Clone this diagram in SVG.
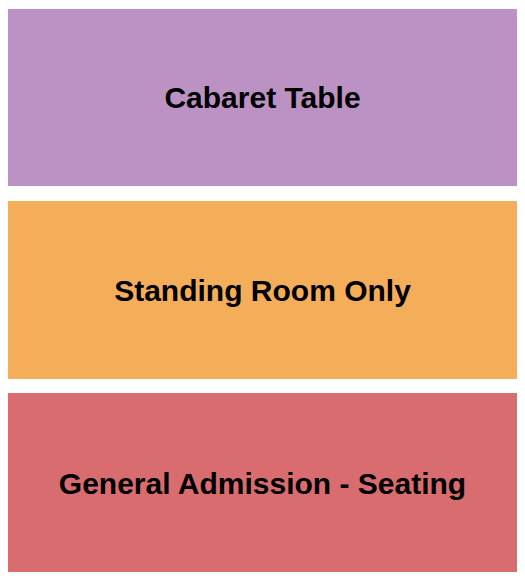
<svg xmlns="http://www.w3.org/2000/svg" width="525" height="580" viewBox="0 0 525 580">
<style>
.lbl{font-family:"Liberation Sans",Arial,sans-serif;font-weight:bold;font-size:30px;fill:#000;text-anchor:middle}
</style>
<rect width="525" height="580" fill="#fff"/>
<g id="cabaret-table"><rect x="8" y="9" width="509" height="177" fill="#BC91C4"/><text class="lbl" x="262.5" y="107.5">Cabaret Table</text></g>
<g id="standing-room-only"><rect x="8" y="201" width="509" height="178" fill="#F4AE5A"/><text class="lbl" x="262.5" y="300.5">Standing Room Only</text></g>
<g id="general-admission"><rect x="8" y="393" width="509" height="179" fill="#D96C6E"/><text class="lbl" x="262.5" y="493.5">General Admission - Seating</text></g>
<g id="connectors"/>
</svg>
